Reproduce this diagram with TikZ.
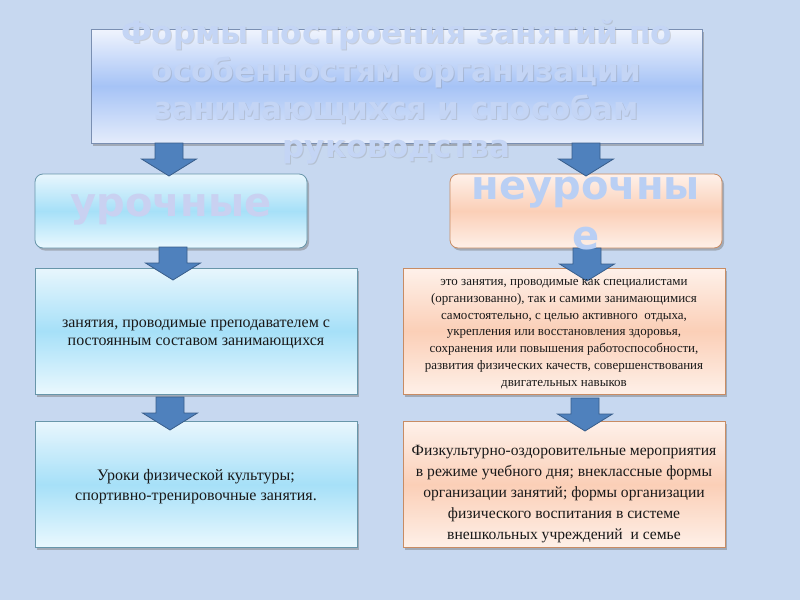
\documentclass[tikz,border=0pt]{standalone}
\usepackage{fontspec}
\setmainfont{Liberation Serif}
\newfontfamily\headfont{DejaVu Sans}
\usetikzlibrary{shadows}
\definecolor{bg}{RGB}{199,216,240}
\definecolor{titleTop}{RGB}{240,244,253}
\definecolor{titleMid}{RGB}{166,195,246}
\definecolor{titleBot}{RGB}{228,236,251}
\definecolor{titleBorder}{RGB}{122,143,178}
\definecolor{titleText}{RGB}{196,213,245}
\definecolor{blueTop}{RGB}{232,246,253}
\definecolor{blueMid}{RGB}{166,224,248}
\definecolor{blueBot}{RGB}{234,248,254}
\definecolor{blueBorder}{RGB}{104,150,170}
\definecolor{peachTop}{RGB}{254,241,234}
\definecolor{peachMid}{RGB}{251,207,183}
\definecolor{peachBot}{RGB}{254,240,232}
\definecolor{peachBorder}{RGB}{200,140,100}
\definecolor{arrowFill}{RGB}{79,129,189}
\definecolor{arrowDraw}{RGB}{56,93,138}
\definecolor{bodyText}{RGB}{25,25,25}
\definecolor{uroText}{RGB}{201,209,241}
\definecolor{neuroText}{RGB}{185,207,244}
\tikzset{
  boxbase/.style={inner sep=0pt, outer sep=0pt, line width=0.8pt,
    drop shadow={shadow xshift=2pt, shadow yshift=-2.5pt, opacity=0.45, fill=black!55}},
  titlebox/.style={boxbase, draw=titleBorder, top color=titleTop, bottom color=titleBot, middle color=titleMid},
  bluebox/.style={boxbase, draw=blueBorder, top color=blueTop, bottom color=blueBot, middle color=blueMid},
  peachbox/.style={boxbase, draw=peachBorder, top color=peachTop, bottom color=peachBot, middle color=peachMid},
  roundbox/.style={rounded corners=8pt},
  bodytxt/.style={text=bodyText, align=center, inner sep=0pt},
  bigtxt/.style={font=\headfont\bfseries\fontsize{40}{50}\selectfont, align=center, inner sep=0pt},
  titletxt/.style={font=\headfont\bfseries\fontsize{31}{37.7}\selectfont, align=center, inner sep=0pt},
  arrowstyle/.style={fill=arrowFill, draw=arrowDraw, line width=0.8pt, line join=miter},
  barrow/.pic={\draw[arrowstyle] (-14,0) -- (14,0) -- (14,16) -- (27.5,16) -- (0,33) -- (-27.5,16) -- (-14,16) -- cycle;}
}
\begin{document}
\begin{tikzpicture}[x=1pt,y=-1pt]
\fill[bg] (0,0) rectangle (800,600);
\useasboundingbox (0,0) rectangle (800,600);

% boxes
\node[titlebox, minimum width=611pt, minimum height=114pt] (title) at (396.5,86) {};
\node[bluebox, roundbox, minimum width=272pt, minimum height=74pt] (uro) at (171,211) {};
\node[peachbox, roundbox, minimum width=272pt, minimum height=74pt] (neuro) at (586,211) {};
\node[bluebox, minimum width=322pt, minimum height=126pt] (l2) at (196,331) {};
\node[peachbox, minimum width=322pt, minimum height=126pt] (r2) at (564,331) {};
\node[bluebox, minimum width=322pt, minimum height=126pt] (l3) at (196,484.5) {};
\node[peachbox, minimum width=322pt, minimum height=126pt] (r3) at (564,484.5) {};

% block arrows between boxes
\coordinate (a1) at (169,143);
\coordinate (a2) at (586,143);
\coordinate (a3) at (173,247);
\coordinate (a4) at (587,248);
\coordinate (a5) at (170,397);
\coordinate (a6) at (585,398);
\foreach \c in {a1,a2,a3,a4,a5,a6} { \pic at (\c) {barrow}; }

% title text
\node[titletxt, text=black!45, opacity=0.3] (titleshadow) at (397.5,93)
 {Формы построения занятий по\\особенностям организации\\занимающихся и способам\\руководства};
\node[titletxt, text=titleText] (titletext) at (396.5,92)
 {Формы построения занятий по\\особенностям организации\\занимающихся и способам\\руководства};

\node[bigtxt, text=uroText] (urotext) at (171,210) {урочные};
\node[bigtxt, text=neuroText] (neurotext) at (586,214) {неурочны\\е};

% body text
\node[bodytxt, font=\fontsize{16}{18}\selectfont] (l2text) at (196,334)
 {занятия, проводимые преподавателем с\\постоянным составом занимающихся};
\node[bodytxt, font=\fontsize{13}{16.8}\selectfont] (r2text) at (564,334)
 {это занятия, проводимые как специалистами\\(организованно), так и самими занимающимися\\самостоятельно, с целью активного\ \ отдыха,\\укрепления или восстановления здоровья,\\сохранения или повышения работоспособности,\\развития физических качеств, совершенствования\\двигательных навыков};
\node[bodytxt, font=\fontsize{16}{20}\selectfont] (l3text) at (196,487)
 {Уроки физической культуры;\\спортивно-тренировочные занятия.};
\node[bodytxt, font=\fontsize{15.6}{21.2}\selectfont] (r3text) at (564,494)
 {Физкультурно-оздоровительные мероприятия\\в режиме учебного дня; внеклассные формы\\организации занятий; формы организации\\физического воспитания в системе\\внешкольных учреждений\ \ и семье};
\end{tikzpicture}
\end{document}
